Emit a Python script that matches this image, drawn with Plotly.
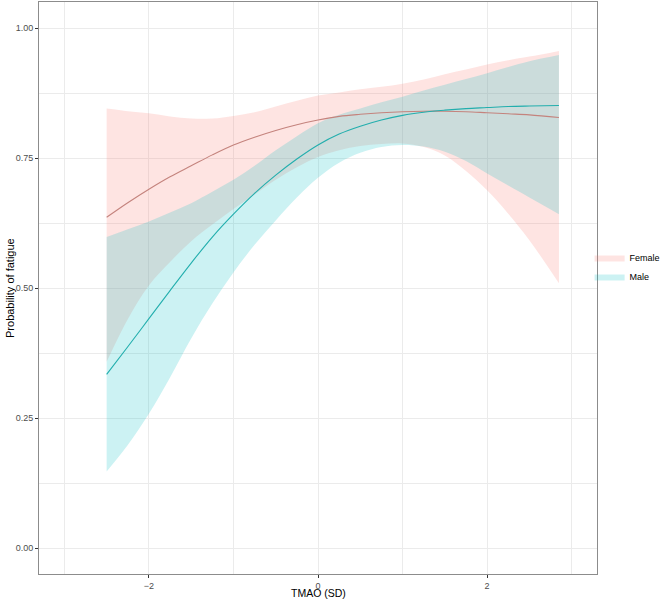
import plotly.graph_objects as go

tmao = [-2.5, -2.25, -2.0, -1.75, -1.5, -1.25, -1.0, -0.75, -0.5, -0.25, 0.0,
        0.25, 0.5, 0.75, 1.0, 1.25, 1.5, 1.75, 2.0, 2.25, 2.5, 2.85]

female_fit = [0.636, 0.664, 0.690, 0.714, 0.735, 0.756, 0.775, 0.790, 0.803, 0.814, 0.823,
              0.830, 0.834, 0.837, 0.839, 0.840, 0.840, 0.839, 0.837, 0.835, 0.833, 0.828]
female_lo = [0.358, 0.440, 0.505, 0.550, 0.590, 0.622, 0.652, 0.680, 0.708, 0.732, 0.752,
             0.765, 0.773, 0.777, 0.778, 0.771, 0.755, 0.725, 0.688, 0.643, 0.592, 0.509]
female_hi = [0.845, 0.840, 0.836, 0.830, 0.826, 0.826, 0.831, 0.838, 0.849, 0.860, 0.870,
             0.876, 0.882, 0.887, 0.893, 0.901, 0.911, 0.920, 0.930, 0.938, 0.945, 0.956]

male_fit = [0.334, 0.387, 0.441, 0.495, 0.548, 0.598, 0.642, 0.682, 0.717, 0.748, 0.775,
            0.796, 0.811, 0.823, 0.832, 0.838, 0.842, 0.845, 0.847, 0.849, 0.850, 0.851]
male_lo = [0.147, 0.198, 0.258, 0.328, 0.403, 0.470, 0.530, 0.583, 0.630, 0.674, 0.712,
           0.741, 0.760, 0.771, 0.775, 0.772, 0.762, 0.744, 0.720, 0.697, 0.674, 0.642]
male_hi = [0.598, 0.613, 0.628, 0.645, 0.663, 0.685, 0.708, 0.735, 0.765, 0.792, 0.817,
           0.833, 0.845, 0.857, 0.868, 0.880, 0.891, 0.902, 0.913, 0.925, 0.936, 0.948]

groups = [
    ("Female", female_fit, female_lo, female_hi, "rgba(248,118,109,0.2)", "#C4837D"),
    ("Male", male_fit, male_lo, male_hi, "rgba(0,191,196,0.2)", "#22AEAD"),
]

fig = go.Figure()

# ribbons first: lower bound, then upper bound filled down to it
for name, fit, lo, hi, fill, line in groups:
    fig.add_trace(go.Scatter(
        x=tmao, y=lo, mode="lines", line=dict(width=0, shape="spline"),
        showlegend=False, hoverinfo="skip"))
    fig.add_trace(go.Scatter(
        x=tmao, y=hi, mode="lines", line=dict(width=0, shape="spline"),
        fill="tonexty", fillcolor=fill, name=name, hoverinfo="skip"))

# fitted lines on top
for name, fit, lo, hi, fill, line in groups:
    fig.add_trace(go.Scatter(
        x=tmao, y=fit, mode="lines", line=dict(color=line, width=1.1, shape="spline"),
        showlegend=False, name=name))

grid = "#EBEBEB"
fig.update_xaxes(
    range=[-3.3, 3.3], tick0=0, dtick=2, showgrid=True, gridcolor=grid, gridwidth=1,
    minor=dict(dtick=1, tick0=0, showgrid=True, gridcolor=grid, gridwidth=0.6),
    zeroline=False, showline=True, mirror=True, linecolor="#8C8C8C", linewidth=1,
    ticks="outside", ticklen=3, tickcolor="#333333",
    tickfont=dict(size=9, color="#4D4D4D"), automargin=False)
fig.update_yaxes(
    range=[-0.05, 1.05], tick0=0, dtick=0.25, tickformat=".2f",
    showgrid=True, gridcolor=grid, gridwidth=1,
    minor=dict(dtick=0.125, tick0=0, showgrid=True, gridcolor=grid, gridwidth=0.6),
    zeroline=False, showline=True, mirror=True, linecolor="#8C8C8C", linewidth=1,
    ticks="outside", ticklen=3, tickcolor="#333333",
    tickfont=dict(size=9, color="#4D4D4D"), automargin=False)

# axis titles as annotations so the panel keeps its place
fig.add_annotation(text="TMAO (SD)", x=0.5, y=-0.034, xref="paper", yref="paper",
                   xanchor="center", yanchor="middle", showarrow=False,
                   font=dict(size=10.5, color="black"))
fig.add_annotation(text="Probability of fatigue", x=-0.052, y=0.5, xref="paper", yref="paper",
                   xanchor="center", yanchor="middle", textangle=-90, showarrow=False,
                   font=dict(size=11, color="black"))

fig.update_layout(
    width=661, height=600,
    margin=dict(l=39, r=64, t=2, b=26, autoexpand=False),
    paper_bgcolor="white", plot_bgcolor="white",
    font=dict(family="Liberation Sans, Arial, sans-serif"),
    legend=dict(x=0.892, y=0.555, xref="container", yref="container",
                yanchor="middle", xanchor="left",
                font=dict(size=9, color="black"), itemwidth=30, traceorder="normal",
                tracegroupgap=0, bgcolor="rgba(0,0,0,0)"),
)

# page body has an 8px default margin; drop it so the figure fills the window
fig.write_html("out.html",
               config={"responsive": False, "displayModeBar": False},
               post_script="document.body.style.margin='0';document.body.style.overflow='hidden';")
